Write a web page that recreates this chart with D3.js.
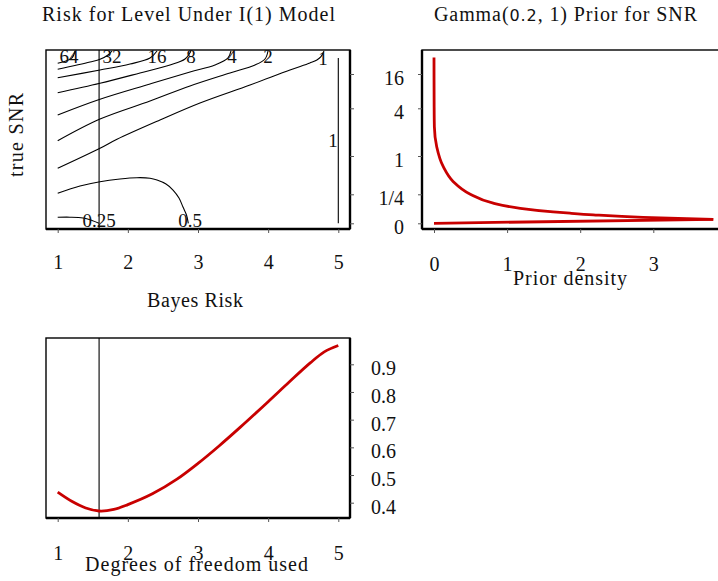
<!DOCTYPE html>
<html><head><meta charset="utf-8">
<script src="https://cdn.jsdelivr.net/npm/d3@7"></script>
<style>
html,body{margin:0;padding:0;background:#fff;}
svg{display:block;font-family:"Liberation Serif","Times New Roman",serif;}
</style></head><body>
<svg id="chart" width="718" height="581"></svg>
<script>
// ---- axis ticks ----
const dfTicks = [1, 2, 3, 4, 5];
const snrTicks = [0, 0.25, 1, 4, 16];
const snrTickLabels = ["0", "1/4", "1", "4", "16"];
const densityTicks = [0, 1, 2, 3];
const riskTicks = [0.4, 0.5, 0.6, 0.7, 0.8, 0.9];

// degrees of freedom minimising the Bayes risk
const dfOptimal = 1.59;

// ---- risk contours, points are [df, true SNR] ----
const contourLevels = ["64", "32", "16", "8", "4", "2", "1", "0.5", "0.25"];
const contour64 = [[1.0,19.74],[1.118,20.55],[1.204,21.60],[1.247,24.05]];
const contour32 = [[1.0,17.64],[1.460,20.20],[1.603,21.14],[1.717,22.65],[1.774,24.05]];
const contour16 = [[1.0,14.71],[1.603,17.40],[2.031,19.50],[2.316,21.60],[2.416,24.05]];
const contour8 = [[1.0,9.458],[1.603,12.75],[2.173,16.35],[2.601,19.15],[2.815,21.25],[2.900,24.05]];
const contour4 = [[1.0,3.579],[1.603,7.149],[2.316,12.50],[2.886,16.70],[3.242,19.15],[3.428,21.60],[3.470,24.05]];
const contour2 = [[1.0,1.962],[1.603,3.327],[2.316,6.554],[2.886,11.80],[3.456,16.35],[3.813,19.15],[3.955,21.25],[3.998,24.05]];
const contour1 = [[1.0,0.759],[1.603,1.484],[1.845,2.050],[2.458,3.264],[3.028,5.854],[3.741,12.15],[4.311,17.40],[4.596,19.85],[4.695,20.90],[4.753,22.05],[4.796,24.05]];
const contour05 = [[1.0,0.270],[1.318,0.4125],[1.603,0.497],[1.888,0.550],[2.130,0.575],[2.316,0.565],[2.416,0.530],[2.544,0.452],[2.644,0.334],[2.729,0.218],[2.786,0.1405],[2.836,0.0716],[2.862,0]];
const contour025 = [[1.0,0.0517],[1.175,0.0526],[1.361,0.0457],[1.489,0.0241],[1.589,0]];
const contour1Edge = [[5,0],[5,21.6]];
// label anchors [df, SNR] for each level, in the same order as contourLevels
const contourLabelAt = [[1.161,19.85],[1.774,19.85],[2.416,19.85],[2.900,19.85],[3.485,19.85],[3.998,19.85],[4.782,19.15],[2.888,-0.03],[1.589,-0.03]];
const contour1EdgeLabelAt = [4.925, 1.566];

// ---- Gamma(0.2,1) prior: SNR and its density ----
const priorSnr     = [0, 0.0345, 0.0517, 0.0733, 0.0871, 0.0983, 0.1293, 0.1733, 0.256, 0.497, 0.79, 1.585, 2.84, 4.56, 21.8];
const priorDensity = [0, 3.82,   2.86,   2.18,   1.86,   1.63,   1.18,   0.81,   0.49,  0.264, 0.127, 0.037, 0.005, 0.002, 0.0];

// ---- Bayes risk against degrees of freedom used ----
const dfGrid    = [1.0, 1.2, 1.4, 1.59, 1.8, 2.0, 2.35, 2.7, 3.0, 3.3, 3.6, 4.0, 4.3, 4.6, 4.8, 5.0];
const bayesRisk = [0.438, 0.405, 0.381, 0.370, 0.3755, 0.393, 0.432, 0.485, 0.542, 0.605, 0.672, 0.765, 0.836, 0.905, 0.945, 0.968];

const RED = "#c80000";
const svg = d3.select("#chart");

// panels
const pA = {x0: 46, x1: 350, y0: 50, y1: 229};
const pB = {x0: 422, x1: 724, y0: 50, y1: 229};
const pC = {x0: 46, x1: 350, y0: 338, y1: 518};

// scales
const xDf = d3.scaleLinear().domain([1, 5]).range([57.7, 338.3]);
const ySnr = d3.scaleLinear().domain(snrTicks).range([223.3, 194.3, 156, 108.3, 74]);
const xDen = d3.scaleLinear().domain([0, 3]).range([434, 653.3]);
const yRisk = d3.scaleLinear().domain([0.4, 0.9]).range([502.7, 364.3]);

const defs = svg.append("defs");
function clip(id, p) {
  defs.append("clipPath").attr("id", id).append("rect")
    .attr("x", p.x0).attr("y", p.y0).attr("width", p.x1 - p.x0).attr("height", p.y1 - p.y0);
}
clip("clipA", pA); clip("clipB", pB); clip("clipC", pC);

function frame(p, thickSides) {
  svg.append("rect").attr("x", p.x0).attr("y", p.y0)
    .attr("width", p.x1 - p.x0).attr("height", p.y1 - p.y0)
    .attr("fill", "none").attr("stroke", "#000").attr("stroke-width", 1.4);
  const sides = {
    bottom: [p.x0, p.y1, p.x1, p.y1], left: [p.x0, p.y0, p.x0, p.y1],
    right: [p.x1, p.y0, p.x1, p.y1]
  };
  thickSides.forEach(s => {
    const c = sides[s];
    svg.append("line").attr("x1", c[0]).attr("y1", c[1]).attr("x2", c[2]).attr("y2", c[3])
      .attr("stroke", "#000").attr("stroke-width", 2.4);
  });
}

function styleAxis(g, textAttrs) {
  g.select(".domain").remove();
  g.selectAll(".tick line").attr("stroke", "#555").attr("stroke-width", 1);
  const t = g.selectAll(".tick text").attr("fill", "#111")
    .style("font-family", '"Liberation Serif", serif').style("font-size", "20px").attr("dy", null);
  Object.entries(textAttrs).forEach(([k, v]) => t.attr(k, v));
}

// ================= Panel A: risk contours =================
frame(pA, ["bottom", "right"]);
const contourG = svg.append("g").attr("clip-path", "url(#clipA)");
const contourLine = d3.line().x(d => xDf(d[0])).y(d => ySnr(d[1])).curve(d3.curveCatmullRom.alpha(0.5));
const contours = [contour64, contour32, contour16, contour8, contour4, contour2, contour1, contour05, contour025, contour1Edge];
contourG.selectAll("path.contour").data(contours).join("path")
  .attr("class", "contour").attr("d", contourLine)
  .attr("fill", "none").attr("stroke", "#000").attr("stroke-width", 1.1);
contourG.append("line")
  .attr("x1", xDf(dfOptimal)).attr("x2", xDf(dfOptimal)).attr("y1", pA.y0).attr("y2", pA.y1)
  .attr("stroke", "#000").attr("stroke-width", 1.1);
svg.append("g").selectAll("text").data(contourLevels).join("text")
  .attr("x", (d, i) => xDf(contourLabelAt[i][0])).attr("y", (d, i) => ySnr(contourLabelAt[i][1]))
  .attr("text-anchor", "middle").style("font-size", "19px").attr("fill", "#111").text(d => d);
svg.append("text").attr("x", xDf(contour1EdgeLabelAt[0])).attr("y", ySnr(contour1EdgeLabelAt[1]))
  .attr("text-anchor", "middle").style("font-size", "19px").attr("fill", "#111").text("1");

styleAxis(svg.append("g").attr("transform", `translate(0,${pA.y1})`)
  .call(d3.axisBottom(xDf).tickValues(dfTicks).tickSize(4).tickFormat(d3.format("d"))), {y: 39.5});
styleAxis(svg.append("g").attr("transform", `translate(${pA.x1},0)`)
  .call(d3.axisRight(ySnr).tickValues(snrTicks).tickSize(4).tickFormat("")), {});

svg.append("text").attr("x", 188.5).attr("y", 21).attr("text-anchor", "middle")
  .attr("textLength", 293).attr("lengthAdjust", "spacing")
  .style("font-size", "20px").attr("fill", "#111").text("Risk for Level Under I(1) Model");
svg.append("text").attr("x", 195).attr("y", 306.5).attr("text-anchor", "middle")
  .attr("textLength", 96).attr("lengthAdjust", "spacing")
  .style("font-size", "20px").attr("fill", "#111").text("Bayes Risk");
svg.append("text").attr("transform", "translate(23,135) rotate(-90)").attr("text-anchor", "middle")
  .attr("textLength", 84).attr("lengthAdjust", "spacing")
  .style("font-size", "20px").attr("fill", "#111").text("true SNR");

// ================= Panel B: prior density =================
frame(pB, ["bottom", "left"]);
const priorPts = priorSnr.map((s, i) => [priorDensity[i], s]);
const priorG = svg.append("g").attr("clip-path", "url(#clipB)");
priorG.append("path")
  .attr("d", d3.line().x(d => xDen(d[0])).y(d => ySnr(d[1]))(priorPts.slice(0, 2)))
  .attr("fill", "none").attr("stroke", RED).attr("stroke-width", 2.8);
priorG.append("path")
  .attr("d", d3.line().x(d => xDen(d[0])).y(d => ySnr(d[1])).curve(d3.curveMonotoneY)(priorPts.slice(1)))
  .attr("fill", "none").attr("stroke", RED).attr("stroke-width", 2.8).attr("stroke-linecap", "butt");

styleAxis(svg.append("g").attr("transform", `translate(${pB.x0},0)`)
  .call(d3.axisLeft(ySnr).tickValues(snrTicks).tickSize(4).tickFormat((d, i) => snrTickLabels[i])),
  {x: -18, y: 10.5, "text-anchor": "end"});
styleAxis(svg.append("g").attr("transform", `translate(0,${pB.y1})`)
  .call(d3.axisBottom(xDen).tickValues(densityTicks).tickSize(4).tickFormat(d3.format("d"))), {y: 42});

const t2 = svg.append("text").attr("x", 565.5).attr("y", 21).attr("text-anchor", "middle")
  .attr("textLength", 263).attr("lengthAdjust", "spacing")
  .style("font-size", "20px").attr("fill", "#111");
t2.append("tspan").text("Gamma(");
t2.append("tspan").style("font-family", '"DejaVu Sans", sans-serif').style("font-size", "16px").text("0.2");
t2.append("tspan").text(", 1) Prior for SNR");
svg.append("text").attr("x", 570).attr("y", 284.5).attr("text-anchor", "middle")
  .attr("textLength", 114).attr("lengthAdjust", "spacing")
  .style("font-size", "20px").attr("fill", "#111").text("Prior density");

// ================= Panel C: Bayes risk =================
frame(pC, ["bottom", "right"]);
const riskG = svg.append("g").attr("clip-path", "url(#clipC)");
riskG.append("line")
  .attr("x1", xDf(dfOptimal)).attr("x2", xDf(dfOptimal)).attr("y1", pC.y0).attr("y2", pC.y1)
  .attr("stroke", "#000").attr("stroke-width", 1.1);
riskG.append("path")
  .attr("d", d3.line().x((d, i) => xDf(dfGrid[i])).y(d => yRisk(d)).curve(d3.curveCatmullRom.alpha(0.5))(bayesRisk))
  .attr("fill", "none").attr("stroke", RED).attr("stroke-width", 2.8);

styleAxis(svg.append("g").attr("transform", `translate(0,${pC.y1})`)
  .call(d3.axisBottom(xDf).tickValues(dfTicks).tickSize(4).tickFormat(d3.format("d"))), {y: 42});
styleAxis(svg.append("g").attr("transform", `translate(${pC.x1},0)`)
  .call(d3.axisRight(yRisk).tickValues(riskTicks).tickSize(4).tickFormat(d3.format(".1f"))),
  {x: 21, y: 10.5, "text-anchor": "start"});

svg.append("text").attr("x", 196.5).attr("y", 571).attr("text-anchor", "middle")
  .attr("textLength", 223).attr("lengthAdjust", "spacing")
  .style("font-size", "20px").attr("fill", "#111").text("Degrees of freedom used");
</script>
</body></html>
